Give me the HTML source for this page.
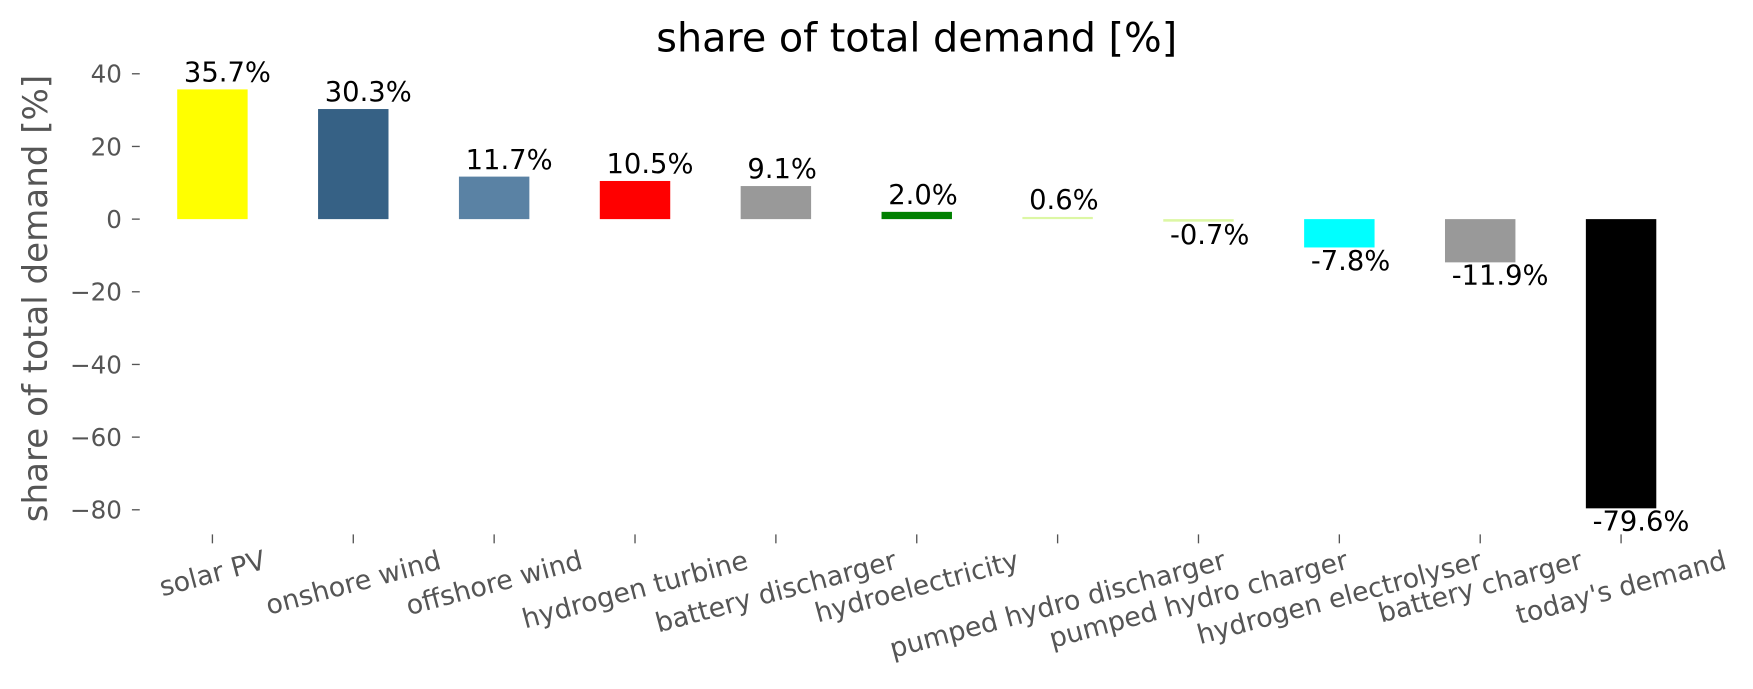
<!DOCTYPE html>
<html><head><meta charset="utf-8"><style>
html,body{margin:0;padding:0;background:#fff;}
svg{display:block;font-family:"DejaVu Sans","Liberation Sans",sans-serif;}
</style></head><body>
<svg id="s" width="1753" height="689" viewBox="0 0 1568 616.3" preserveAspectRatio="none">
<text x="820" y="46" font-size="35.5" text-anchor="middle" fill="#000">share of total demand [%]</text>
<text transform="translate(42,267) rotate(-90)" font-size="30.5" text-anchor="middle" fill="#555">share of total demand [%]</text>
<g id="yt" font-size="22" fill="#555" text-anchor="end"></g>
<g id="bars"></g>
<g id="xl" font-size="24" fill="#555"></g>
</svg>
<script>
var NS="http://www.w3.org/2000/svg";
function el(t,a,p,txt){var e=document.createElementNS(NS,t);for(var k in a)e.setAttribute(k,a[k]);if(txt!==undefined)e.textContent=txt;p.appendChild(e);return e;}
var s=document.getElementById('s'),yt=document.getElementById('yt'),bars=document.getElementById('bars'),xl=document.getElementById('xl');
function Y(v){return 196-v*3.25;}
for(var v=40;v>=-80;v-=20){
  el('text',{x:109,y:Y(v)+8},yt,(v<0?'\u2212':'')+Math.abs(v));
  el('line',{x1:118,x2:125,y1:Y(v),y2:Y(v),stroke:'#555','stroke-width':1.2},s);
}
var d=[["solar PV",35.7,"#ffff00"],["onshore wind",30.3,"#366185"],["offshore wind",11.7,"#5a82a4"],["hydrogen turbine",10.5,"#ff0000"],["battery discharger",9.1,"#999999"],["hydroelectricity",2.0,"#008000"],["pumped hydro discharger",0.6,"#dcf7a4"],["pumped hydro charger",-0.7,"#dcf7a4"],["hydrogen electrolyser",-7.8,"#00ffff"],["battery charger",-11.9,"#999999"],["today's demand",-79.6,"#000000"]];
d.forEach(function(r,i){
  var cx=190+i*126,x=cx-31.5,v=r[1];
  var y0=Y(Math.max(v,0)),y1=Y(Math.min(v,0));
  el('rect',{x:x,y:y0,width:63,height:Math.max(y1-y0,1.5),fill:r[2]},bars);
  var lab=v.toFixed(1)+'%';
  if(v>=0) el('text',{x:x+6,y:y0-7,'font-size':24.5,fill:'#000'},bars,lab);
  else el('text',{x:x+6,y:y1+20,'font-size':24.5,fill:'#000'},bars,lab);
  el('line',{x1:cx,x2:cx,y1:478,y2:486,stroke:'#555','stroke-width':1.2},s);
  var t=el('text',{'text-anchor':'middle',x:0,y:8},xl,r[0]);
  var w=t.getComputedTextLength();
  var cy=489+(0.259*w+0.966*24)/2;
  t.setAttribute('transform','translate('+cx+','+cy+') rotate(-15)');
});
</script>
</body></html>
